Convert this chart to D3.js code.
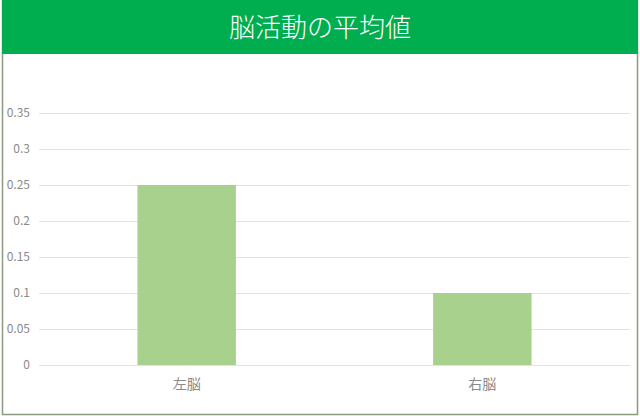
<!DOCTYPE html>
<html lang="ja">
<head>
<meta charset="UTF-8">
<title>脳活動の平均値</title>
<style>
  body { margin: 0; background: #fff; }
  .tick text { font-family: "Noto Sans CJK JP", "Noto Sans", sans-serif; fill: #8a8a8a; }
</style>
</head>
<body>
<script src="https://d3js.org/d3.v7.min.js"></script>
<script>
const title = "脳活動の平均値";
const categories = ["左脳", "右脳"];
const values = [0.25, 0.1];
const yTicks = [0, 0.05, 0.1, 0.15, 0.2, 0.25, 0.3, 0.35];

const W = 640, H = 416;
const margin = { top: 113, right: 10, bottom: 50, left: 39 };
const plotRight = 630, plotBottom = 365;

const svg = d3.select("body").append("svg")
    .attr("width", W)
    .attr("height", H);

// outer frame
svg.append("rect")
    .attr("x", 2.5).attr("y", 0.5)
    .attr("width", 635).attr("height", 414)
    .attr("fill", "#fff")
    .attr("stroke", "#8c9a80")
    .attr("stroke-width", 1.5);

// header band
svg.append("rect")
    .attr("x", 2).attr("y", 0)
    .attr("width", 636).attr("height", 54)
    .attr("fill", "#00ad4f");

svg.append("text")
    .attr("x", 320).attr("y", 37)
    .attr("text-anchor", "middle")
    .attr("fill", "#fff")
    .style("font-family", "'Noto Sans CJK JP', sans-serif")
    .style("font-weight", 300)
    .style("font-size", "26px")
    .text(title);

const x = d3.scaleBand()
    .domain(categories)
    .range([margin.left, plotRight])
    .paddingInner(0.667)
    .paddingOuter(0.333);

const y = d3.scaleLinear()
    .domain([0, 0.35])
    .range([plotBottom, margin.top]);

// gridlines
svg.append("g")
    .selectAll("line")
    .data(yTicks)
    .join("line")
    .attr("x1", margin.left).attr("x2", plotRight)
    .attr("y1", d => y(d) + 0.5).attr("y2", d => y(d) + 0.5)
    .attr("stroke", "#e3e3e3")
    .attr("stroke-width", 1);

// bars
svg.append("g")
    .selectAll("rect")
    .data(values)
    .join("rect")
    .attr("x", (d, i) => x(categories[i]))
    .attr("width", x.bandwidth())
    .attr("y", d => y(d))
    .attr("height", d => y(0) - y(d))
    .attr("fill", "#a9d18e");

// y axis labels
const yAxis = d3.axisLeft(y)
    .tickValues(yTicks)
    .tickSize(0)
    .tickPadding(9)
    .tickFormat(d => d3.format("")(+d.toFixed(2)));

svg.append("g")
    .attr("transform", `translate(${margin.left},0)`)
    .call(yAxis)
    .call(g => g.select(".domain").remove())
    .selectAll("text")
    .style("font-size", "12px");

// x axis labels
const xAxis = d3.axisBottom(x).tickSize(0).tickPadding(14);

svg.append("g")
    .attr("transform", `translate(0,${plotBottom})`)
    .call(xAxis)
    .call(g => g.select(".domain").remove())
    .selectAll("text")
    .style("font-size", "14px");
</script>
</body>
</html>
